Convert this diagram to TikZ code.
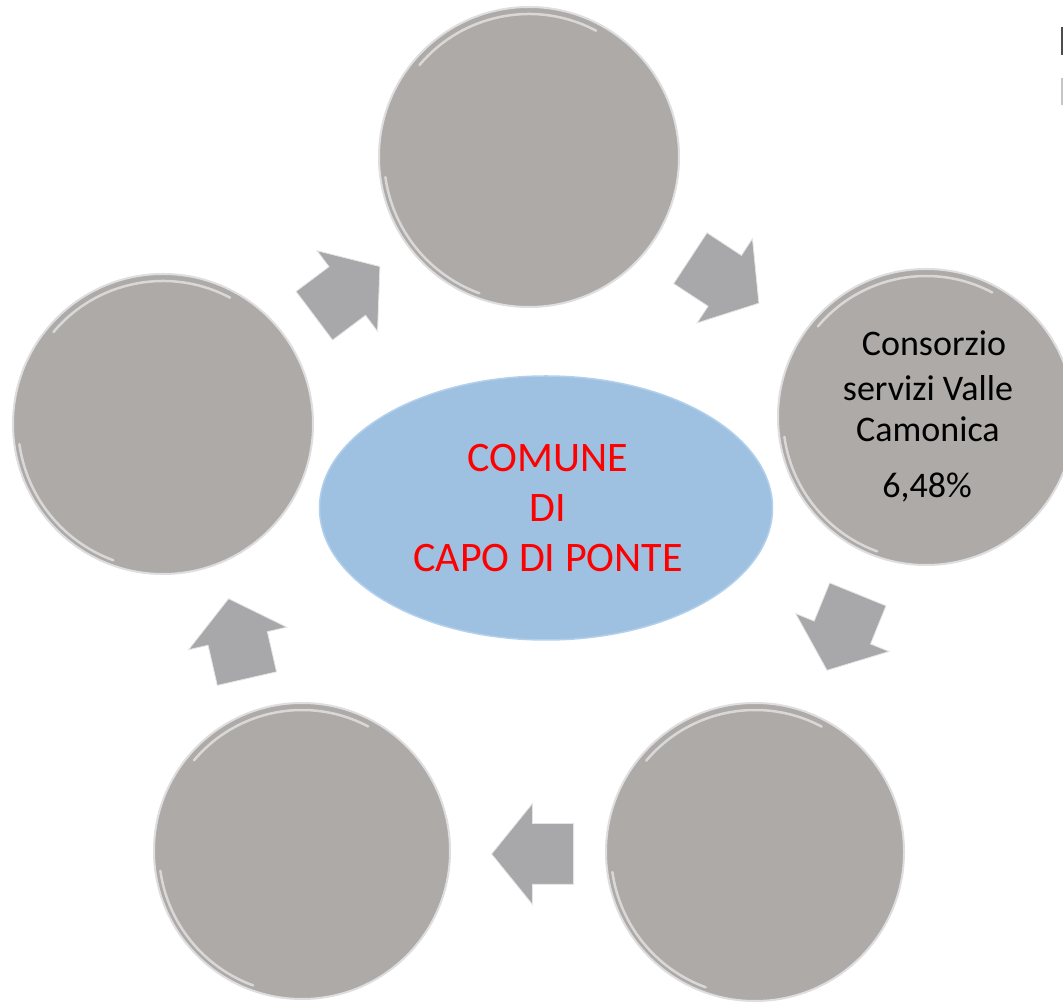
\documentclass[tikz,border=0pt]{standalone}
\usepackage{fontspec}
\setmainfont{Carlito}
\usetikzlibrary{shapes.geometric,shapes.arrows,calc}
\definecolor{circgray}{RGB}{173,170,168}
\definecolor{circrim}{RGB}{222,222,224}
\definecolor{ellblue}{RGB}{158,193,226}
\definecolor{ellrim}{RGB}{178,208,236}
\definecolor{arrgray}{RGB}{168,168,170}
\definecolor{capred}{RGB}{255,0,0}
\tikzset{
  bubble/.style={circle, fill=circgray, draw=circrim, line width=2pt, inner sep=0pt},
  hilite/.style={white, line width=2.5pt, opacity=0.55, line cap=round},
  blockarrow/.style={single arrow, fill=arrgray, draw=white!80!gray, line width=0.8pt,
    inner xsep=0pt, inner ysep=30pt, minimum height=82pt,
    single arrow head extend=20pt, single arrow head indent=0pt,
    single arrow tip angle=102, anchor=tail},
  centre/.style={ellipse, fill=ellblue, draw=ellrim, line width=1.5pt, inner sep=0pt,
    minimum width=453pt, minimum height=264pt},
  redtext/.style={text=capred, font=\fontsize{42}{50}\selectfont, align=center, inner sep=0pt},
  blacktext/.style={text=black, font=\fontsize{36}{44}\selectfont, inner sep=0pt, anchor=base}
}
\begin{document}
\begin{tikzpicture}[x=1pt,y=1pt]
\clip (0,0) rectangle (1063,1003);
\fill[white] (0,0) rectangle (1063,1003);
% circles
\node[bubble, minimum size=300pt] (T) at (529,846) {};
\node[bubble, minimum size=296pt] (R) at (926,586) {};
\node[bubble, minimum size=298pt] (BR) at (755,151) {};
\node[bubble, minimum size=296pt] (BL) at (302,152) {};
\node[bubble, minimum size=300pt] (L) at (163,579) {};
% highlights
\foreach \c/\r in {T/150,R/148,BR/149,BL/148,L/150}{
  \draw[hilite] ($(\c)+(62:\r-7)$) arc[start angle=62,end angle=140,radius=\r-7];
  \draw[hilite] ($(\c)+(188:\r-5)$) arc[start angle=188,end angle=250,radius=\r-5];
}
% centre ellipse
\node[centre] (E) at (546,495) {};
\node[redtext] (Etext) at (548,495) {COMUNE\\DI\\CAPO DI PONTE};
% block arrows (placed by their tails)
\node[blockarrow, rotate=36.9] (a1) at (314,687) {};
\node[blockarrow, rotate=-33.3] (a2) at (690,745) {};
\node[blockarrow, rotate=247.9] (a3) at (858,409) {};
\node[blockarrow, rotate=180] (a4) at (574,149) {};
\node[blockarrow, rotate=102.9] (a5) at (247,324) {};
% right circle text
\node[blacktext] (r1) at (934,647) {Consorzio};
\node[blacktext] (r2) at (928,602) {servizi Valle};
\node[blacktext] (r3) at (928,561) {Camonica};
\node[blacktext] (r4) at (927,505) {6,48\%};
% cut-off fragments at top right
\fill[gray!60!black] (1061,976) rectangle (1063,948);
\fill[gray!45] (1061,925) rectangle (1063,898);
\end{tikzpicture}
\end{document}
